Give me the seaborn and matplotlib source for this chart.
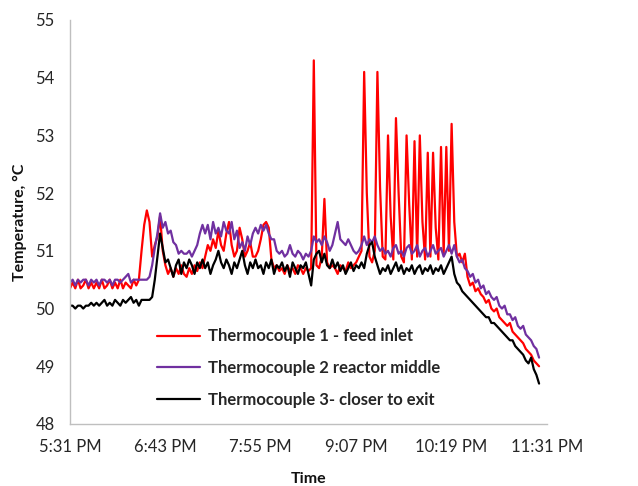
import numpy as np
import pandas as pd
import seaborn as sns
import matplotlib.pyplot as plt

# readings every 2 minutes starting 5:31 PM
start = pd.Timestamp("2013-05-14 17:31")
minutes = np.arange(0, 356, 2)

# Thermocouple 1 - feed inlet
tc1 = [50.35, 50.45, 50.35, 50.5, 50.35, 50.4, 50.5, 50.35, 50.45, 50.35,
       50.45, 50.35, 50.5, 50.35, 50.4, 50.5, 50.35, 50.45, 50.35, 50.5,
       50.35, 50.45, 50.4, 50.35, 50.5, 50.4, 50.5, 51.0, 51.45, 51.7,
       51.5, 50.9, 51.1, 51.25, 51.6, 51.0, 50.75, 50.6, 50.7, 50.55,
       50.7, 50.6, 50.75, 50.6, 50.55, 50.7, 50.6, 50.75, 50.65, 50.8,
       50.7, 50.9, 51.1, 51.0, 51.2, 51.05, 51.35, 51.1, 51.0, 51.3,
       51.5, 51.1, 50.9, 51.0, 51.4, 51.2, 50.9, 51.0, 51.15, 50.9,
       50.9, 51.0, 51.2, 51.45, 51.5, 51.4, 50.85, 50.7, 50.75, 50.65,
       50.7, 50.6, 50.75, 50.65, 50.7, 50.6, 50.75, 50.7, 50.6, 50.7,
       50.65, 50.7, 54.3, 50.75, 50.7, 50.9, 51.9, 50.8, 50.7, 50.75,
       50.7, 50.6, 50.75, 50.7, 50.65, 50.8, 50.7, 50.75, 50.8, 50.9,
       51.0, 54.1, 52.0, 50.9, 50.8, 51.0, 54.1, 52.1, 50.9, 50.85,
       53.0, 51.6, 50.85, 53.3, 52.0, 50.9, 50.8, 53.0, 51.8, 50.85,
       52.9, 50.9, 53.0, 51.5, 50.85, 52.7, 50.9, 52.7, 51.4, 50.85,
       52.8, 50.95, 52.8, 51.0, 53.2, 51.5, 50.9, 50.95, 50.8, 50.95,
       50.55, 50.4, 50.45, 50.3, 50.35, 50.25, 50.2, 50.1, 50.15, 50.0,
       49.95, 50.0, 49.85, 49.8, 49.75, 49.7, 49.75, 49.6, 49.55, 49.5,
       49.45, 49.4, 49.3, 49.25, 49.2, 49.1, 49.05, 49.0]

# Thermocouple 2 reactor middle
tc2 = [50.45, 50.5, 50.4, 50.5, 50.45, 50.5, 50.5, 50.4, 50.5, 50.45,
       50.5, 50.4, 50.5, 50.5, 50.45, 50.5, 50.4, 50.5, 50.5, 50.45,
       50.5, 50.55, 50.6, 50.45, 50.5, 50.5, 50.5, 50.5, 50.5, 50.5,
       50.55, 50.75, 51.05, 51.3, 51.65, 51.4, 51.5, 51.3, 51.35, 51.15,
       51.1, 50.95, 51.0, 50.95, 50.95, 51.0, 50.9, 51.0, 51.1, 51.3,
       51.45, 51.3, 51.45, 51.2, 51.5, 51.3, 51.4, 51.25, 51.5, 51.35,
       51.3, 51.5, 51.2, 51.35, 51.05, 51.15, 51.0, 51.25, 51.1, 51.3,
       51.4, 51.3, 51.45, 51.35, 51.45, 51.3, 51.2, 51.2, 51.0, 50.95,
       51.0, 50.9, 50.95, 51.1, 50.95, 50.9, 51.0, 50.95, 50.85, 50.95,
       50.9, 51.0, 51.25, 51.15, 51.2, 51.1, 51.25, 51.15, 51.0, 51.1,
       51.3, 51.5, 51.2, 51.15, 51.1, 51.2, 51.1, 51.0, 50.95, 51.0,
       51.1, 51.25, 51.1, 51.2, 51.15, 51.25, 51.1, 51.0, 51.05, 50.95,
       51.0, 50.9, 51.05, 51.1, 50.95, 51.0, 50.9, 51.05, 51.1, 50.95,
       51.0, 51.1, 50.9, 51.0, 51.05, 50.9, 51.0, 51.1, 50.95, 51.0,
       51.05, 50.9, 51.0, 51.1, 50.95, 51.1, 50.9, 50.8, 50.85, 50.7,
       50.65, 50.55, 50.6, 50.45, 50.5, 50.35, 50.4, 50.25, 50.3, 50.2,
       50.15, 50.2, 50.05, 50.0, 50.05, 49.9, 49.9, 49.8, 49.85, 49.7,
       49.65, 49.7, 49.55, 49.5, 49.45, 49.35, 49.3, 49.15]

# Thermocouple 3 closer to exit
tc3 = [50.05, 50.05, 50.0, 50.05, 50.05, 50.0, 50.05, 50.05, 50.1, 50.05,
       50.1, 50.05, 50.1, 50.15, 50.05, 50.1, 50.05, 50.15, 50.1, 50.05,
       50.15, 50.1, 50.15, 50.2, 50.1, 50.15, 50.05, 50.15, 50.15, 50.15,
       50.15, 50.2, 50.5, 50.9, 51.3, 51.05, 50.8, 50.85, 50.7, 50.55,
       50.75, 50.85, 50.6, 50.8, 50.7, 50.85, 50.75, 50.6, 50.8, 50.7,
       50.85, 50.7, 50.8, 50.6, 50.75, 50.85, 51.0, 50.8, 50.7, 50.85,
       50.75, 50.6, 50.8, 50.7, 50.85, 51.0, 50.75, 50.6, 50.8, 50.7,
       50.85, 50.7, 50.75, 50.6, 50.8, 50.7, 50.85, 50.6, 50.75, 50.7,
       50.8, 50.65, 50.75, 50.55, 50.8, 50.7, 50.6, 50.75, 50.7, 50.8,
       50.6, 50.4, 50.85, 50.95, 51.0, 50.8, 50.95, 50.75, 50.7, 50.85,
       50.7, 50.8, 50.65, 50.75, 50.6, 50.7, 50.8, 50.65, 50.75, 50.7,
       50.8, 50.7, 50.95, 51.1, 51.15, 50.9, 50.75, 50.6, 50.7, 50.65,
       50.75, 50.6, 50.7, 50.8, 50.65, 50.75, 50.6, 50.7, 50.65, 50.75,
       50.6, 50.7, 50.75, 50.6, 50.7, 50.65, 50.75, 50.6, 50.7, 50.65,
       50.75, 50.6, 50.7, 50.8, 50.9, 50.6, 50.45, 50.4, 50.3, 50.25,
       50.2, 50.15, 50.1, 50.05, 50.0, 49.95, 49.9, 49.85, 49.85, 49.75,
       49.75, 49.7, 49.65, 49.6, 49.55, 49.5, 49.45, 49.45, 49.35, 49.3,
       49.25, 49.2, 49.1, 49.05, 49.15, 48.95, 48.85, 48.7]

labels = ["Thermocouple 1 - feed inlet",
          "Thermocouple 2 reactor middle",
          "Thermocouple 3- closer to exit"]
colors = ["#ff0000", "#7030a0", "#000000"]
tick_labels = ["5:31 PM", "6:43 PM", "7:55 PM", "9:07 PM", "10:19 PM", "11:31 PM"]

times = start + pd.to_timedelta(minutes, unit="min")
df = pd.DataFrame({"Time": times, labels[0]: tc1, labels[1]: tc2, labels[2]: tc3})
long = df.melt(id_vars="Time", var_name="series", value_name="temp")

sns.set_theme(style="white")
plt.rcParams["font.family"] = ["Lato", "DejaVu Sans"]

fig = plt.figure(figsize=(6.38, 4.86), dpi=100)
ax = fig.add_axes([0.1097, 0.1276, 0.7477, 0.8313])

sns.lineplot(data=long, x="Time", y="temp", hue="series", hue_order=labels,
             palette=colors, linewidth=1.6, estimator=None, ax=ax)

xticks = [start + pd.Timedelta(minutes=72 * k) for k in range(len(tick_labels))]
ax.set_xticks(xticks)
ax.set_xticklabels(tick_labels)
ax.set_xlim(xticks[0], xticks[-1])
ax.set_ylim(48, 55)
ax.set_yticks(range(48, 56))

for s in ["top", "right"]:
    ax.spines[s].set_visible(False)
for s in ["left", "bottom"]:
    ax.spines[s].set_color("#bfbfbf")
    ax.spines[s].set_linewidth(1)

ax.tick_params(axis="both", direction="out", length=5, width=1, color="#bfbfbf",
               labelsize=12, labelcolor="#262626", pad=6)

ax.set_xlabel("Time", fontsize=11.5, fontweight="bold", color="#111111", labelpad=12)
ax.set_ylabel("Temperature, \u00b0C", fontsize=11.5, fontweight="bold", color="#111111", labelpad=6)

old = ax.get_legend()
handles = old.legend_handles
old.remove()
ax.legend(handles, labels, loc="upper left", bbox_to_anchor=(0.168, 0.253),
          frameon=False, prop={"weight": "bold", "size": 12},
          handlelength=2.6, handletextpad=0.5, labelspacing=0.95, borderaxespad=0)
for h in ax.get_legend().legend_handles:
    h.set_linewidth(1.6)

fig.savefig("out.png", dpi=100)
